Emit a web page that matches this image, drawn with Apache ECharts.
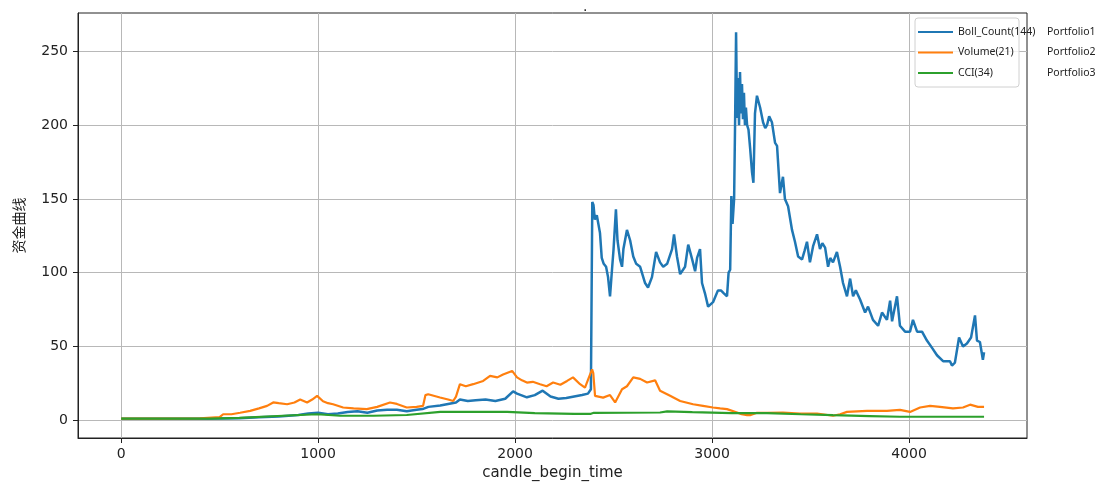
<!DOCTYPE html>
<html>
<head>
<meta charset="utf-8">
<script src="https://cdn.jsdelivr.net/npm/echarts@6/dist/echarts.min.js"></script>
<style>html,body{margin:0;padding:0;background:#fff}#c{width:1103px;height:482px}</style>
</head>
<body>
<div id="c"></div>
<script>
const seriesNames = ['Boll_Count(144)', 'Volume(21)', 'CCI(34)'];
const portfolioLabels = ['Portfolio1', 'Portfolio2', 'Portfolio3'];
const xTicks = [0, 1000, 2000, 3000, 4000];
const yTicks = [0, 50, 100, 150, 200, 250];

const xBoll = [0,200,400,600,700,800,900,950,1000,1050,1100,1150,1200,1250,1300,1350,1400,1450,1500,1530,1560,1620,1660,1700,1720,1760,1800,1850,1900,1950,1990,2010,2060,2100,2140,2180,2220,2260,2300,2340,2370,2385,2392,2398,2405,2415,2431,2440,2450,2462,2472,2482,2492,2500,2512,2520,2533,2543,2550,2568,2584,2600,2615,2635,2660,2675,2695,2716,2736,2752,2772,2797,2807,2822,2838,2863,2879,2899,2914,2924,2939,2949,2964,2980,3005,3030,3045,3060,3076,3084,3092,3098,3104,3112,3117,3122,3127,3132,3137,3142,3147,3152,3157,3162,3167,3172,3178,3185,3193,3203,3210,3218,3228,3244,3259,3270,3279,3290,3304,3320,3330,3345,3360,3370,3386,3406,3421,3437,3457,3470,3482,3497,3513,3533,3548,3560,3574,3589,3600,3614,3634,3650,3665,3685,3701,3716,3730,3751,3777,3792,3817,3843,3863,3888,3904,3914,3939,3954,3980,4005,4020,4041,4066,4091,4117,4142,4173,4208,4218,4233,4254,4274,4294,4315,4335,4345,4360,4375,4381];
const yBoll = [1,1,1,1.3,2,2.5,3.5,4.5,5,4,4.5,5.5,6,5,6.5,7,7,6,7,7.5,9,10,11,12,14,13,13.5,14,13,14.5,19.5,18,15.5,17,20,16,14.5,15,16,17,18,21,148,146,136,139,127,110,106,104,97,84,102,116,143,122,109,104,116,129,122,111,106,104,93,90,97,114,107,104,106,116,126,111,99,104,119,109,101,110,116,93,86,77,80,88,88,86,84,100,102,152,133,150,202,263,205,232,200,236,208,228,204,222,200,212,200,197,185,168,161,208,220,212,202,198,200,206,202,188,186,154,165,150,145,129,121,111,109,115,121,107,118,126,116,120,117,104,110,107,114,104,93,84,96,84,88,82,73,77,68,64,73,68,81,67,84,64,60,60,68,60,60,54,49,44,40,40,37,39,56,50,52,56,71,54,53,41,46];

const xVol = [0,200,400,500,518,560,604,655,700,741,772,800,843,880,909,944,970,995,1025,1050,1076,1127,1180,1247,1300,1365,1400,1450,1500,1533,1545,1559,1619,1660,1686,1700,1720,1750,1787,1838,1873,1910,1939,1985,2010,2035,2060,2090,2127,2160,2193,2230,2264,2294,2330,2355,2371,2391,2397,2406,2447,2482,2508,2543,2568,2600,2635,2670,2711,2736,2787,2838,2904,2954,3005,3041,3076,3127,3150,3178,3193,3228,3280,3360,3446,3533,3614,3650,3685,3787,3888,3954,4005,4056,4107,4157,4223,4274,4310,4350,4381];
const yVol = [1,1,1.2,2,4,4,5,6.3,8,9.7,12,11.5,10.8,12,14,12,14,16.5,12.8,11.5,10.8,8.6,8,7.5,9,12,11,8.6,9,9.7,17,17.6,15.4,14,13,16,24.4,23,24.4,26.6,30,29,31,33.4,29,27,25.5,26,24.4,23,25.5,24,26.6,29,24.4,22,27.7,34.5,32,16.5,15.3,17,12,21,23,29,28,25.5,27,20,16.5,13,10.8,9.7,8.6,8,7.5,5.2,4,3.4,3.4,5,5,5.2,4.5,4.5,3,4,5.6,6.3,6.3,7,5.6,8.6,9.7,9,8,8.6,10.5,9,9];

const xCci = [0,455,600,822,995,1112,1281,1450,1620,1960,2100,2300,2385,2400,2736,2772,2900,3100,3279,3450,3614,3800,3954,4381];
const yCci = [1,1,1.5,3,4,3,3,3.5,5.6,5.6,4.8,4.3,4.3,5,5.2,6,5.5,4.8,4.8,4,3.4,2.8,2.3,2.3];

const pair = (xs, ys) => xs.map((x, i) => [x, ys[i]]);
const colors = ['#1f77b4', '#ff7f0e', '#2ca02c'];
const dataSets = [pair(xBoll, yBoll), pair(xVol, yVol), pair(xCci, yCci)];

const chart = echarts.init(document.getElementById('c'), null, {renderer: 'canvas'});
const tickFont = 'DejaVu Sans';
const legFont = 'Noto Sans';
chart.setOption({
  animation: false,
  backgroundColor: '#fff',
  grid: {left: 78, top: 13, width: 949, height: 425, show: true, borderColor: '#222', borderWidth: 1,
         backgroundColor: 'transparent', containLabel: false, outerBoundsMode: 'none'},
  xAxis: {
    type: 'value', min: -219, max: 4599,
    name: 'candle_begin_time', nameLocation: 'middle', nameGap: 28,
    nameTextStyle: {fontFamily: tickFont, fontSize: 15, color: '#222'},
    axisLine: {show: true, onZero: false, lineStyle: {color: '#222', width: 1}},
    axisTick: {show: true, customValues: xTicks, length: 5, lineStyle: {color: '#222'}},
    axisLabel: {customValues: xTicks, formatter: v => String(v), fontFamily: tickFont, fontSize: 14, color: '#222', margin: 9},
    splitLine: {show: true, lineStyle: {color: '#b8b8b8', width: 1}}
  },
  yAxis: {
    type: 'value', min: -12.1, max: 276.1,
    name: '资金曲线', nameLocation: 'middle', nameGap: 52, nameRotate: 90,
    nameTextStyle: {fontFamily: 'Noto Sans CJK SC', fontSize: 14, color: '#222'},
    axisLine: {show: true, onZero: false, lineStyle: {color: '#222', width: 1}},
    axisTick: {show: true, customValues: yTicks, length: 5, lineStyle: {color: '#222'}},
    axisLabel: {customValues: yTicks, formatter: v => String(v), fontFamily: tickFont, fontSize: 14, color: '#222', margin: 10},
    splitLine: {show: true, lineStyle: {color: '#b8b8b8', width: 1}}
  },
  legend: {
    orient: 'vertical', left: 913, top: 20, itemWidth: 35, itemHeight: 2, itemGap: 6.5,
    icon: 'rect', selectedMode: false, z: 5,
    data: seriesNames,
    formatter: name => '{a|' + name + '}{b|' + portfolioLabels[seriesNames.indexOf(name)] + '}',
    textStyle: {
      fontFamily: legFont, fontSize: 10.5, color: '#222', lineHeight: 14,
      rich: {
        a: {fontFamily: legFont, fontSize: 10.5, color: '#222', width: 89, lineHeight: 14},
        b: {fontFamily: legFont, fontSize: 10.5, color: '#222', lineHeight: 14}
      }
    }
  },
  graphic: [
    {type: 'rect', z: 4, shape: {x: 915, y: 18, width: 104, height: 69, r: 3},
     style: {fill: 'rgba(255,255,255,0.8)', stroke: '#d0d0d0', lineWidth: 1}},
    {type: 'text', z: 4, x: 583, y: 0, style: {text: '.', fontSize: 14, fontFamily: tickFont, fill: '#222'}}
  ],
  series: seriesNames.map((n, i) => ({
    name: n, type: 'line', data: dataSets[i], showSymbol: false, symbol: 'none',
    color: colors[i],
    lineStyle: {color: colors[i], width: i === 0 ? 2.5 : 2.2},
    z: 2 + i * 0.1
  }))
});
</script>
</body>
</html>
